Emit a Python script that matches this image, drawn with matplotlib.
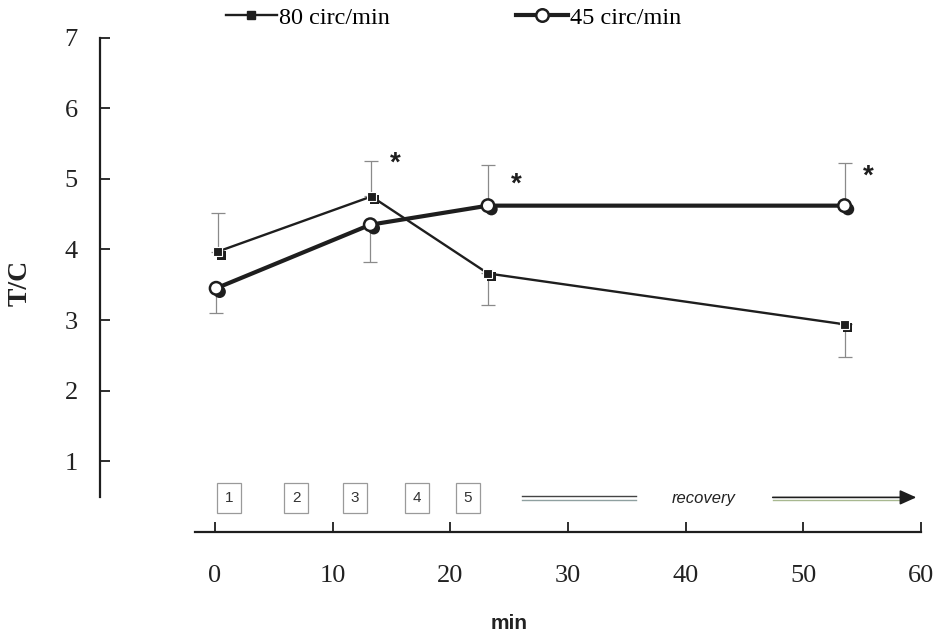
import numpy as np
import matplotlib
matplotlib.use('Agg')
import matplotlib.pyplot as plt
import matplotlib.patheffects as pe
from matplotlib.lines import Line2D

# data
t_80 = [0.25, 13.3, 23.2, 53.5]
tc_80 = [3.97, 4.75, 3.66, 2.94]
err_up_80 = [0.55, 0.50, 0.0, 0.0]
err_dn_80 = [0.0, 0.0, 0.44, 0.46]

t_45 = [0.1, 13.2, 23.2, 53.5]
tc_45 = [3.45, 4.35, 4.62, 4.62]
err_up_45 = [0.0, 0.0, 0.58, 0.60]
err_dn_45 = [0.35, 0.53, 0.0, 0.0]

star_x = [15.3, 25.6, 55.5]
star_y = [5.22, 4.92, 5.03]

box_labels = ['1', '2', '3', '4', '5']
box_x = [1.2, 6.9, 11.9, 17.2, 21.5]
band_y = 0.48

xticks = [0, 10, 20, 30, 40, 50, 60]
yticks = [1, 2, 3, 4, 5, 6, 7]

ink = '#1e1e1e'
serif = 'Liberation Serif'
sans = 'Liberation Sans'

fig = plt.figure(figsize=(9.4, 6.33), dpi=100)
ax = fig.add_axes([100 / 940, 101 / 633, 821 / 940, 498 / 633])
ax.set_xlim(-115 / 11.77, 60)
ax.set_ylim(0, 7.05)

# spines: detached y axis, x axis sitting at y=0
for s in ['top', 'right']:
  ax.spines[s].set_visible(False)
ax.spines['left'].set_bounds(0.5, 7)
ax.spines['bottom'].set_bounds(-1.7, 60)
for s in ['left', 'bottom']:
  ax.spines[s].set_linewidth(1.6)
  ax.spines[s].set_color(ink)

ax.set_xticks(xticks)
ax.set_yticks(yticks)
ax.tick_params(axis='both', direction='in', length=7, width=1.3, color=ink,
               labelsize=19, labelcolor='#222')
ax.tick_params(axis='y', pad=16)
ax.tick_params(axis='x', pad=24)
for lab in ax.get_xticklabels() + ax.get_yticklabels():
  lab.set_fontfamily(serif)

# error bars (one-sided, thin grey)
ax.errorbar(t_80, tc_80, yerr=[err_dn_80, err_up_80], fmt='none', ecolor='#8a8a8a',
            elinewidth=0.9, capsize=5, capthick=0.9, zorder=1)
ax.errorbar(t_45, tc_45, yerr=[err_dn_45, err_up_45], fmt='none', ecolor='#8a8a8a',
            elinewidth=0.9, capsize=5, capthick=0.9, zorder=1)

shadow = [pe.SimplePatchShadow(offset=(2.5, -2.5), shadow_rgbFace=ink, alpha=1.0), pe.Normal()]

ax.plot(t_80, tc_80, color=ink, lw=1.7, zorder=2)
ax.plot(t_80, tc_80, ls='none', marker='s', ms=6.5, mfc=ink, mec='white', mew=0.8,
        zorder=3, path_effects=shadow)
ax.plot(t_45, tc_45, color=ink, lw=3.0, zorder=2)
ax.plot(t_45, tc_45, ls='none', marker='o', ms=9, mfc='white', mec=ink, mew=1.8,
        zorder=4, path_effects=shadow)

for x, y in zip(star_x, star_y):
  ax.text(x, y, '*', fontsize=20, fontweight='bold', fontfamily=sans, color=ink,
          ha='center', va='center')

# protocol boxes and recovery arrow
for x, lab in zip(box_x, box_labels):
  ax.text(x, band_y, lab, fontsize=11, fontfamily=sans, color='#333', ha='center',
          va='center', bbox=dict(boxstyle='square,pad=0.5', fc='white', ec='#9a9a9a', lw=0.9))

ax.plot([26.1, 35.8], [band_y + 0.025, band_y + 0.025], color='#444', lw=1.0)
ax.plot([26.1, 35.8], [band_y - 0.025, band_y - 0.025], color='#8fa0a0', lw=1.0)
ax.text(41.5, band_y, 'recovery', fontsize=12, fontstyle='italic', fontfamily=sans,
        color='#222', ha='center', va='center')
ax.plot([47.4, 58.2], [band_y - 0.03, band_y - 0.03], color='#a8b890', lw=1.0)
ax.annotate('', xy=(59.6, band_y + 0.01), xytext=(47.4, band_y + 0.01),
            arrowprops=dict(arrowstyle='-|>,head_length=1.0,head_width=0.45',
                            lw=1.2, color=ink, shrinkA=0, shrinkB=0))

ax.set_ylabel('T/C', fontsize=20, fontweight='bold', fontfamily=serif, color='#222')
ax.yaxis.set_label_coords(-0.082, 0.50)
ax.set_xlabel('min', fontsize=15, fontweight='bold', fontfamily=sans, color='#222')
ax.xaxis.set_label_coords(0.498, -0.165)

handles = [
  Line2D([], [], color=ink, lw=1.7, marker='s', ms=6, mfc=ink, mec=ink),
  Line2D([], [], color=ink, lw=3.0, marker='o', ms=9, mfc='white', mec=ink, mew=1.8),
]
fig.legend(handles, ['80 circ/min', '45 circ/min'], loc='center', ncol=2,
           bbox_to_anchor=(0.4824, 0.972), frameon=False, handlelength=2.1,
           handletextpad=0.1, columnspacing=5.2,
           prop={'family': serif, 'size': 17.5})

fig.savefig('out.png', dpi=100)
